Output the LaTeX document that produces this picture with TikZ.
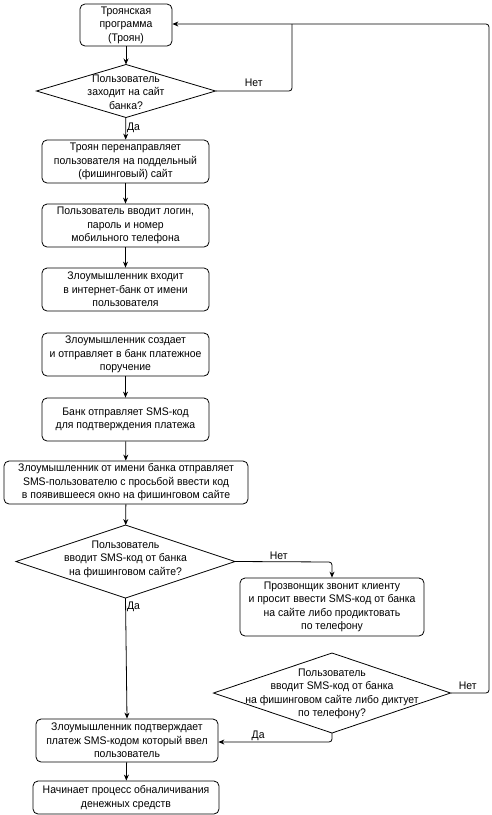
\documentclass[tikz,border=0pt]{standalone}
\usepackage{fontspec}
\setmainfont{Liberation Sans}[FakeStretch=0.95]
\usetikzlibrary{shapes.geometric,arrows.meta}
\begin{document}
\begin{tikzpicture}[x=1pt,y=-1pt,
  every node/.style={font=\fontsize{11}{13.5}\selectfont},
  box/.style={draw,rounded corners=5pt,line width=0.8pt,align=center,inner sep=0pt},
  dia/.style={draw,diamond,line width=0.8pt,inner sep=0pt,outer sep=0pt},
  dtext/.style={align=center,inner sep=0pt},
  arr/.style={line width=0.8pt,-{Stealth[length=6pt,width=5pt]}},
  ln/.style={line width=0.8pt},
  lbl/.style={inner sep=1pt}]
\useasboundingbox (0,0) rectangle (492,815);
\node[box,minimum width=92pt,minimum height=42pt] (b1) at (126,25) {Троянская\\программа\\(Троян)};
\node[dia,minimum width=179pt,minimum height=53pt] (d1) at (126,91) {};
\node[dtext] (t1) at (126,92) {Пользователь\\заходит на сайт\\банка?};
\node[box,minimum width=167pt,minimum height=43pt] (b2) at (125.5,161.5) {Троян перенаправляет\\пользователя на поддельный\\(фишинговый) сайт};
\node[box,minimum width=167pt,minimum height=43pt] (b3) at (125.5,225.5) {Пользователь вводит логин,\\пароль и номер\\мобильного телефона};
\node[box,minimum width=167pt,minimum height=43pt] (b4) at (125.5,289.5) {Злоумышленник входит\\в интернет-банк от имени\\пользователя};
\node[box,minimum width=167pt,minimum height=43pt] (b5) at (125.5,354.5) {Злоумышленник создает\\и отправляет в банк платежное\\поручение};
\node[box,minimum width=167pt,minimum height=43pt] (b6) at (125.5,419.5) {Банк отправляет SMS-код\\для подтверждения платежа};
\node[box,minimum width=244pt,minimum height=43pt] (b7) at (126,482.5) {Злоумышленник от имени банка отправляет\\SMS-пользователю с просьбой ввести код\\в появившееся окно на фишинговом сайте};
\node[dia,minimum width=219pt,minimum height=73pt] (d2) at (125.5,561.5) {};
\node[dtext] (t2) at (125.5,559) {Пользователь\\вводит SMS-код от банка\\на фишинговом сайте?};
\node[box,minimum width=184pt,minimum height=58pt] (b8) at (332,607) {Прозвонщик звонит клиенту\\и просит ввести SMS-код от банка\\на сайте либо продиктовать\\по телефону};
\node[dia,minimum width=237pt,minimum height=80pt] (d3) at (332,693) {};
\node[dtext] (t3) at (332,694) {Пользователь\\вводит SMS-код от банка\\на фишинговом сайте либо диктует\\по телефону?};
\node[box,minimum width=182pt,minimum height=43pt] (b9) at (127,740.5) {Злоумышленник подтверждает\\платеж SMS-кодом который ввел\\пользователь};
\node[box,minimum width=186pt,minimum height=33pt] (b10) at (126,797.5) {Начинает процесс обналичивания\\денежных средств};
\coordinate (j1) at (292,24);
\coordinate (c1) at (292,91);
\coordinate (c2) at (489,693);
\coordinate (c3) at (489,24);
\coordinate (c4) at (332,742);
\coordinate (c5) at (332,562);
\draw[arr] (b1) -- (d1);
\draw[arr] (d1) -- node[lbl,right,pos=0.45] {Да} (b2);
\draw[arr] (b2) -- (b3);
\draw[arr] (b3) -- (b4);
\draw[arr] (b5) -- (b6);
\draw[arr] (b6) -- (b7);
\draw[arr] (b7) -- (d2);
\draw[arr] (b9) -- (b10);
\draw[ln,rounded corners=3pt] (d1.east) -- node[lbl,above,pos=0.5,yshift=3pt] {Нет} (c1) -- (j1);
\draw[arr,rounded corners=3pt] (d3.east) -- node[lbl,above,pos=0.45,yshift=2pt] {Нет} (c2) -- (c3) -- (b1.east |- c3);
\draw[arr,rounded corners=3pt] (d2.east) -- node[lbl,above,pos=0.45,yshift=1pt] {Нет} (c5) -- (b8.north);
\draw[arr] (d2.south) -- node[lbl,right,pos=0.07] {Да} (b9.north);
\draw[arr,rounded corners=3pt] (d3.south) -- (c4) -- node[lbl,above,pos=0.65] {Да} (b9.east |- c4);
\end{tikzpicture}
\end{document}
